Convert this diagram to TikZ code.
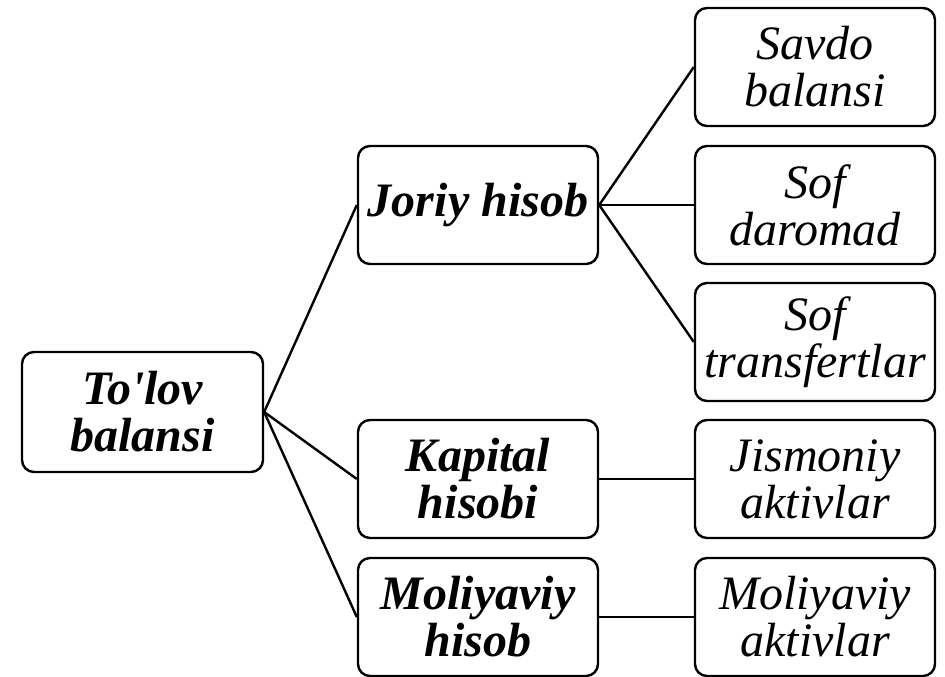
\documentclass[tikz,border=0pt]{standalone}
\usepackage{fontspec}
\newfontfamily\tnr{Liberation Serif}
\begin{document}
\begin{tikzpicture}[x=1pt,y=-1pt,
  box/.style={draw, line width=2.4pt, rounded corners=12pt, minimum width=240pt, minimum height=118pt, inner sep=0pt, align=center, font=\tnr\fontsize{48}{47}\selectfont\itshape},
  mainbox/.style={box, font=\tnr\fontsize{48}{47}\selectfont\bfseries\itshape},
  link/.style={line width=2.4pt}]
\useasboundingbox (0,0) rectangle (945,677);
\node[mainbox, minimum width=241pt, minimum height=120pt] (tolov) at (142.5,412) {To'lov\\balansi};
\node[mainbox] (joriy) at (478,205) {Joriy hisob};
\node[mainbox] (kapital) at (478,479) {Kapital\\hisobi};
\node[mainbox] (moliya) at (478,617) {Moliyaviy\\hisob};
\node[box] (savdo) at (815,67) {Savdo\\balansi};
\node[box] (daromad) at (815,205) {Sof\\daromad};
\node[box] (transfert) at (815,342) {Sof\\transfertlar};
\node[box] (jismoniy) at (815,479) {Jismoniy\\aktivlar};
\node[box] (aktiv) at (815,617) {Moliyaviy\\aktivlar};
\draw[link] (tolov.east) -- (joriy.west);
\draw[link] (tolov.east) -- (kapital.west);
\draw[link] (tolov.east) -- (moliya.west);
\draw[link] (joriy.east) -- (savdo.west);
\draw[link] (joriy.east) -- (daromad.west);
\draw[link] (joriy.east) -- (transfert.west);
\draw[link] (kapital.east) -- (jismoniy.west);
\draw[link] (moliya.east) -- (aktiv.west);
\end{tikzpicture}
\end{document}
